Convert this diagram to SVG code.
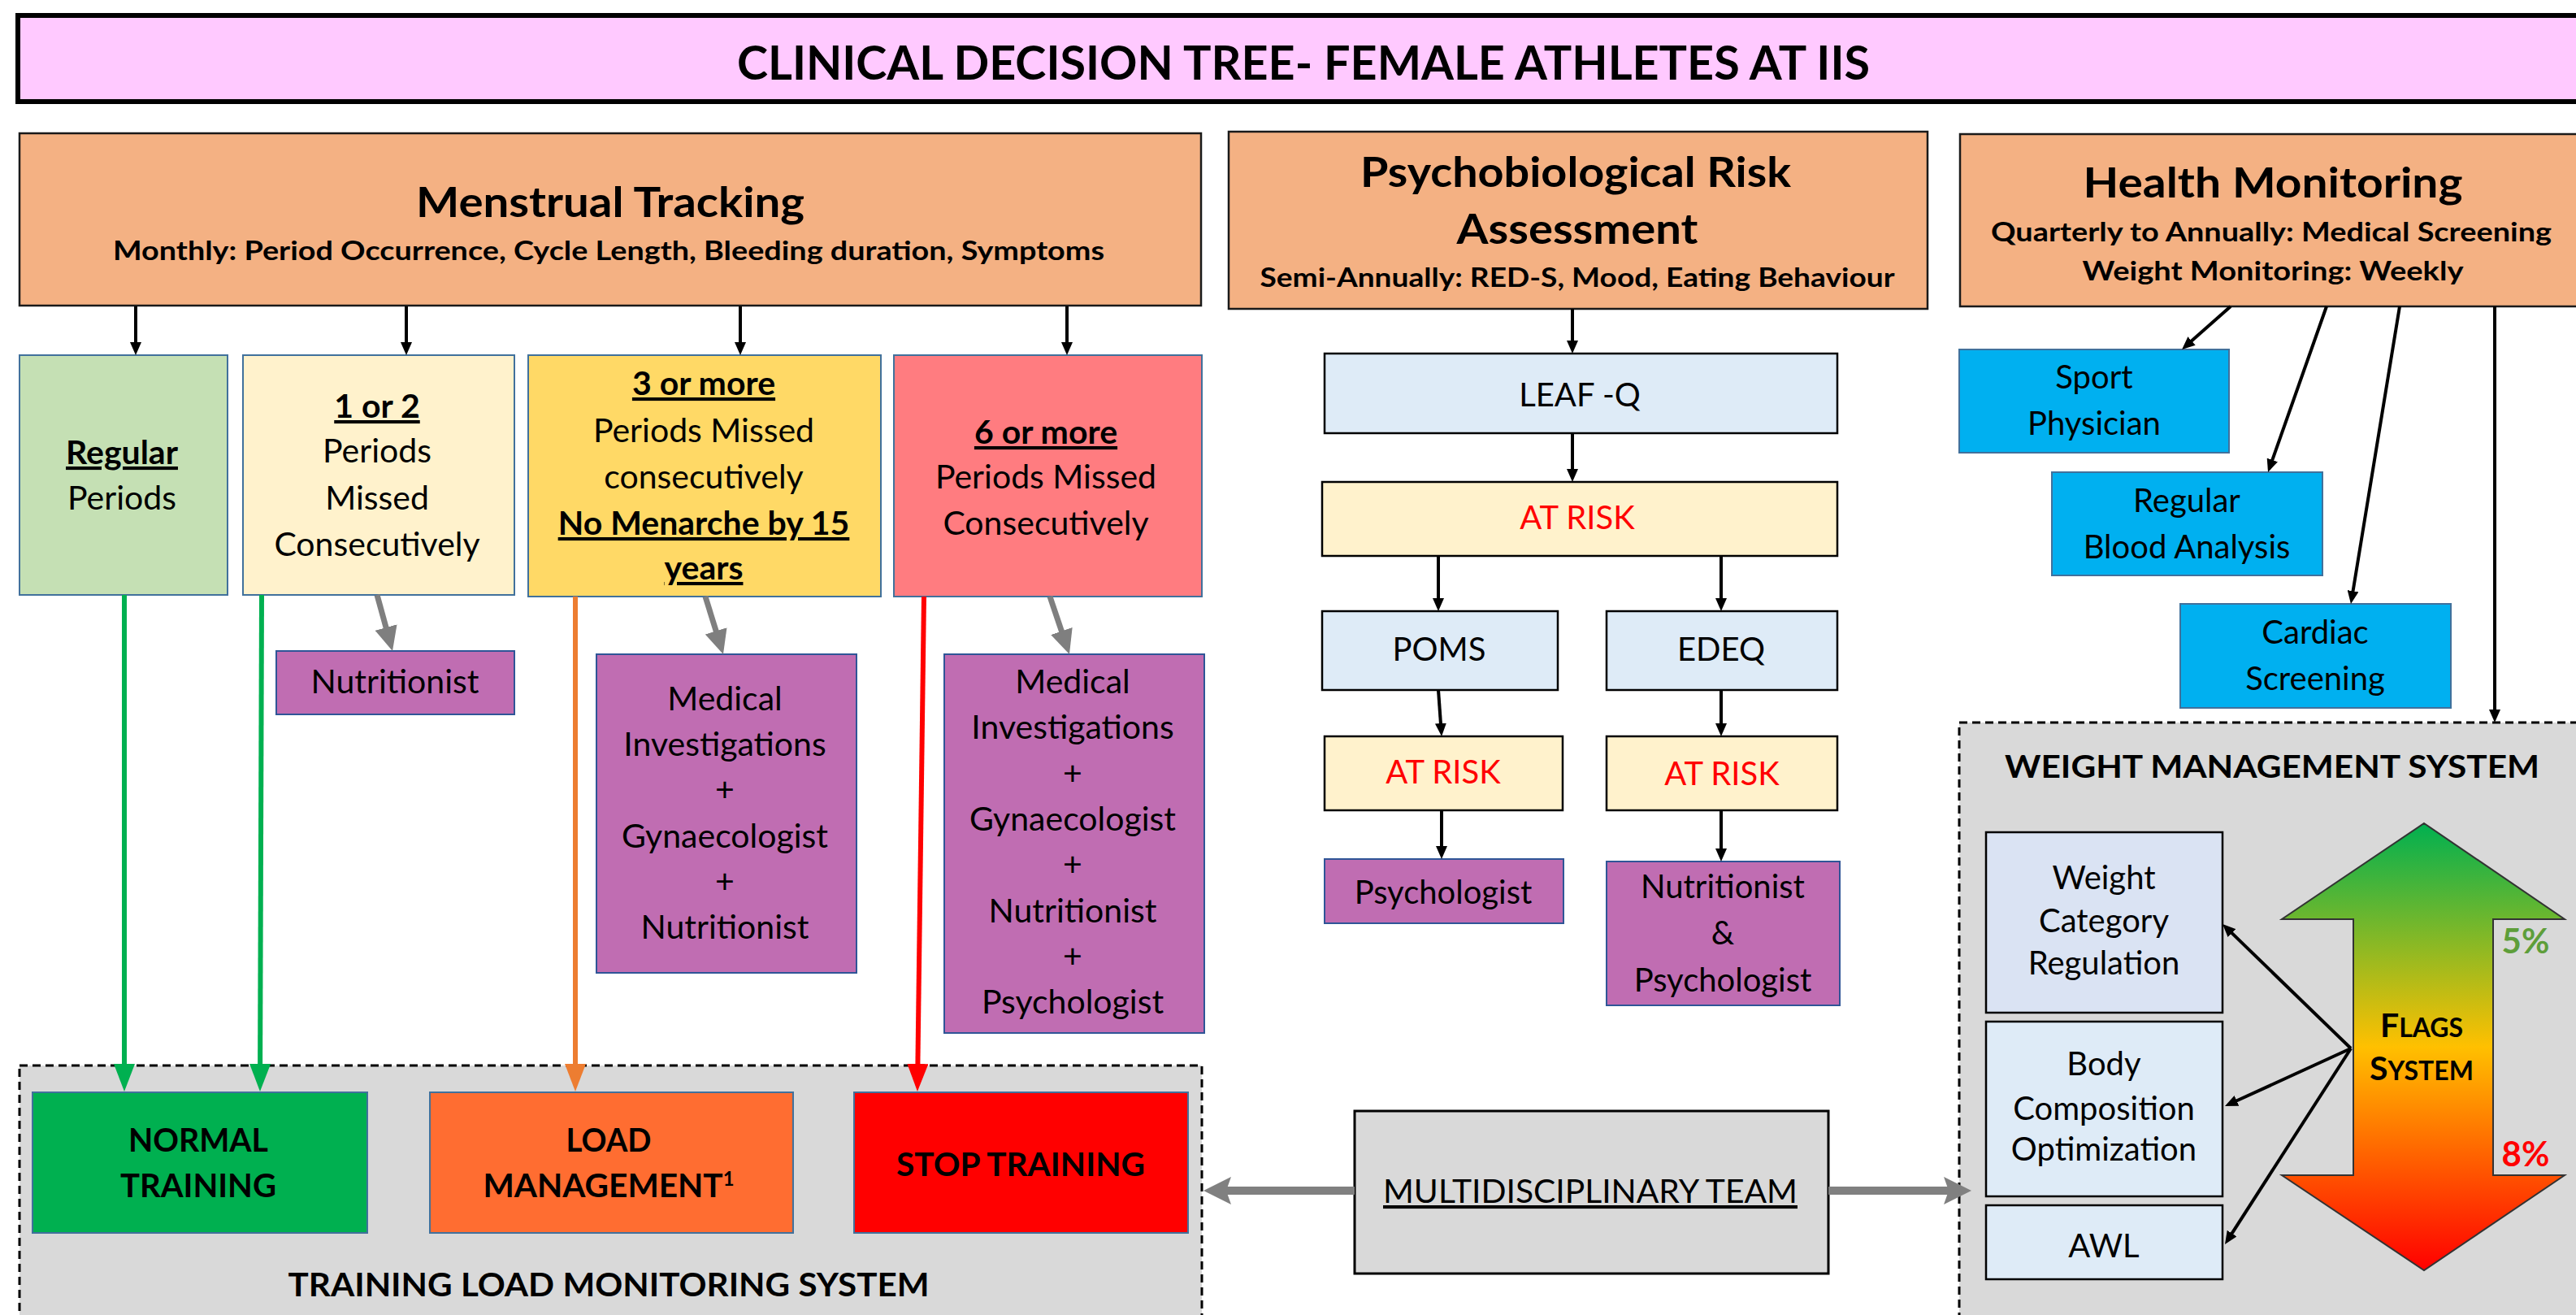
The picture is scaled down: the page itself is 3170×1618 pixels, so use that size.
<svg xmlns="http://www.w3.org/2000/svg" width="3170" height="1618" viewBox="0 0 3170 1618">
<defs>
<style>
text { font-family: Lato, "Open Sans", "Liberation Sans", sans-serif; fill: #000; text-anchor: middle; }
.b { font-weight: 700; }
.u { text-decoration: underline; }
.f40 { font-size: 40px; }
.f41 { font-size: 41px; }
.f51 { font-size: 51px; font-weight: 700; }
.f32 { font-size: 32px; font-weight: 700; }
.hdr { fill: #F4B183; stroke: #1a1a1a; stroke-width: 2.5; }
.bb { stroke: #41719C; stroke-width: 2; }
.kb { stroke: #000; stroke-width: 2.5; }
.purple { fill: #C06DB2; stroke: #2F5597; stroke-width: 2; }
.lblue { fill: #DEEBF7; }
.cream { fill: #FFF2CC; }
.cyan { fill: #00B0F0; stroke: #41719C; stroke-width: 2; }
.dash { fill: #D9D9D9; stroke: #000; stroke-width: 3; stroke-dasharray: 10 6; }
.ck { fill: none; stroke: #000; stroke-width: 4; marker-end: url(#ah-k); }
.cg { fill: none; stroke: #7F7F7F; stroke-width: 7; marker-end: url(#ah-g); }
</style>
<marker id="ah-k" markerUnits="userSpaceOnUse" markerWidth="16" markerHeight="14" refX="1" refY="7" orient="auto"><path d="M0,0 L16,7 L0,14 z" fill="#000"/></marker>
<marker id="ah-g" markerUnits="userSpaceOnUse" markerWidth="30" markerHeight="28" refX="1" refY="14" orient="auto"><path d="M0,0 L30,14 L0,28 z" fill="#7F7F7F"/></marker>
<marker id="ah-green" markerUnits="userSpaceOnUse" markerWidth="34" markerHeight="26" refX="1" refY="13" orient="auto"><path d="M0,0 L34,13 L0,26 z" fill="#00B050"/></marker>
<marker id="ah-orange" markerUnits="userSpaceOnUse" markerWidth="34" markerHeight="26" refX="1" refY="13" orient="auto"><path d="M0,0 L34,13 L0,26 z" fill="#ED7D31"/></marker>
<marker id="ah-red" markerUnits="userSpaceOnUse" markerWidth="34" markerHeight="26" refX="1" refY="13" orient="auto"><path d="M0,0 L34,13 L0,26 z" fill="#FF0000"/></marker>
<marker id="ah-mdt" markerUnits="userSpaceOnUse" markerWidth="34" markerHeight="34" refX="6" refY="17" orient="auto"><path d="M0,0 L34,17 L0,34 L6,17 z" fill="#808080"/></marker>
<linearGradient id="flagGrad" x1="0" y1="1013" x2="0" y2="1563" gradientUnits="userSpaceOnUse">
<stop offset="0" stop-color="#00B050"/>
<stop offset="0.5" stop-color="#FFC000"/>
<stop offset="1" stop-color="#FF0000"/>
</linearGradient>
</defs>

<rect width="3170" height="1618" fill="#FFFFFF"/>

<g id="title">
<rect x="22" y="19" width="3200" height="106" fill="#FFC9FF" stroke="#000" stroke-width="6"/>
<text x="1604" y="98" class="b" font-size="57" textLength="1394" lengthAdjust="spacingAndGlyphs">CLINICAL DECISION TREE- FEMALE ATHLETES AT IIS</text>
</g>

<g id="training-load-monitoring-system">
<rect x="24" y="1311" width="1455" height="400" class="dash"/>
<text x="749" y="1595" class="b" font-size="41" textLength="789" lengthAdjust="spacingAndGlyphs">TRAINING  LOAD  MONITORING  SYSTEM</text>
</g>
<g id="weight-management-system">
<rect x="2411" y="889" width="800" height="800" class="dash"/>
<text x="2796" y="957" class="b" font-size="39" textLength="658" lengthAdjust="spacingAndGlyphs">WEIGHT MANAGEMENT   SYSTEM</text>
</g>

<g id="menstrual-tracking">
<rect x="24" y="164" width="1454" height="212" class="hdr"/>
<text x="751" y="267" class="f51" textLength="478" lengthAdjust="spacingAndGlyphs">Menstrual Tracking</text>
<text x="749" y="320" class="f32" textLength="1220" lengthAdjust="spacingAndGlyphs">Monthly:  Period Occurrence, Cycle Length, Bleeding duration, Symptoms</text>
</g>
<g id="psychobiological-risk">
<rect x="1512" y="162" width="860" height="218" class="hdr"/>
<text x="1939" y="230" class="f51" textLength="530" lengthAdjust="spacingAndGlyphs">Psychobiological Risk</text>
<text x="1941" y="300" class="f51" textLength="297" lengthAdjust="spacingAndGlyphs">Assessment</text>
<text x="1941" y="353" class="f32" textLength="781" lengthAdjust="spacingAndGlyphs">Semi-Annually: RED-S, Mood,  Eating Behaviour</text>
</g>
<g id="health-monitoring">
<rect x="2412" y="165" width="800" height="212" class="hdr"/>
<text x="2797" y="243" class="f51" textLength="467" lengthAdjust="spacingAndGlyphs">Health Monitoring</text>
<text x="2795" y="297" class="f32" textLength="690" lengthAdjust="spacingAndGlyphs">Quarterly to Annually: Medical Screening</text>
<text x="2797" y="345" class="f32" textLength="469" lengthAdjust="spacingAndGlyphs">Weight Monitoring:  Weekly</text>
</g>

<g id="regular-periods">
<rect x="24" y="437" width="256" height="295" fill="#C5E0B4" class="bb"/>
<text x="150" y="571" class="f41 b u">Regular</text>
<text x="150" y="627" class="f41">Periods</text>
</g>
<g id="one-or-two-missed">
<rect x="299" y="437" width="334" height="295" fill="#FFF2CC" class="bb"/>
<text x="464" y="514" class="f41 b u">1 or 2</text>
<text x="464" y="569" class="f41">Periods</text>
<text x="464" y="627" class="f41">Missed</text>
<text x="464" y="684" class="f41">Consecutively</text>
</g>
<g id="three-or-more-missed">
<rect x="650" y="437" width="434" height="297" fill="#FFD966" class="bb"/>
<text x="866" y="486" class="f41 b u">3 or more</text>
<text x="866" y="544" class="f41">Periods Missed</text>
<text x="866" y="601" class="f41">consecutively</text>
<text x="866" y="658" class="f41 b u">No Menarche by 15</text>
<text x="866" y="713" class="f41 b u">years</text>
</g>
<g id="six-or-more-missed">
<rect x="1100" y="437" width="379" height="297" fill="#FF7C80" class="bb"/>
<text x="1287" y="546" class="f41 b u">6 or more</text>
<text x="1287" y="601" class="f41">Periods Missed</text>
<text x="1287" y="658" class="f41">Consecutively</text>
</g>
<g id="nutritionist-1">
<rect x="340" y="801" width="293" height="78" class="purple"/>
<text x="486" y="853" class="f41">Nutritionist</text>
</g>
<g id="medical-3">
<rect x="734" y="805" width="320" height="392" class="purple"/>
<text x="892" y="874" class="f41">Medical</text>
<text x="892" y="930" class="f41">Investigations</text>
<text x="892" y="986" class="f41">+</text>
<text x="892" y="1043" class="f41">Gynaecologist</text>
<text x="892" y="1099" class="f41">+</text>
<text x="892" y="1155" class="f41">Nutritionist</text>
</g>
<g id="medical-6">
<rect x="1162" y="805" width="320" height="466" class="purple"/>
<text x="1320" y="853" class="f41">Medical</text>
<text x="1320" y="909" class="f41">Investigations</text>
<text x="1320" y="966" class="f41">+</text>
<text x="1320" y="1022" class="f41">Gynaecologist</text>
<text x="1320" y="1078" class="f41">+</text>
<text x="1320" y="1135" class="f41">Nutritionist</text>
<text x="1320" y="1191" class="f41">+</text>
<text x="1320" y="1247" class="f41">Psychologist</text>
</g>

<g id="leaf-q">
<rect x="1630" y="435" width="631" height="98" class="lblue kb"/>
<text x="1944" y="500" class="f40">LEAF -Q</text>
</g>
<g id="at-risk-1">
<rect x="1627" y="593" width="634" height="91" class="cream kb"/>
<text x="1941" y="651" class="f40" style="fill:#FF0000">AT RISK</text>
</g>
<g id="poms">
<rect x="1627" y="752" width="290" height="97" class="lblue kb"/>
<text x="1771" y="813" class="f40">POMS</text>
</g>
<g id="edeq">
<rect x="1977" y="752" width="284" height="97" class="lblue kb"/>
<text x="2118" y="813" class="f40">EDEQ</text>
</g>
<g id="at-risk-2">
<rect x="1630" y="906" width="293" height="91" class="cream kb"/>
<text x="1776" y="964" class="f40" style="fill:#FF0000">AT RISK</text>
</g>
<g id="at-risk-3">
<rect x="1977" y="906" width="284" height="91" class="cream kb"/>
<text x="2119" y="966" class="f40" style="fill:#FF0000">AT RISK</text>
</g>
<g id="psychologist">
<rect x="1630" y="1057" width="294" height="79" class="purple"/>
<text x="1776" y="1112" class="f40">Psychologist</text>
</g>
<g id="nutritionist-psychologist">
<rect x="1977" y="1060" width="287" height="177" class="purple"/>
<text x="2120" y="1105" class="f40">Nutritionist</text>
<text x="2120" y="1162" class="f40">&amp;</text>
<text x="2120" y="1220" class="f40">Psychologist</text>
</g>

<g id="sport-physician">
<rect x="2411" y="430" width="332" height="127" class="cyan"/>
<text x="2577" y="478" class="f40">Sport</text>
<text x="2577" y="535" class="f40">Physician</text>
</g>
<g id="blood-analysis">
<rect x="2525" y="581" width="333" height="127" class="cyan"/>
<text x="2691" y="630" class="f40">Regular</text>
<text x="2691" y="687" class="f40">Blood Analysis</text>
</g>
<g id="cardiac-screening">
<rect x="2683" y="743" width="333" height="128" class="cyan"/>
<text x="2849" y="792" class="f40">Cardiac</text>
<text x="2849" y="849" class="f40">Screening</text>
</g>

<g id="weight-category-regulation">
<rect x="2444" y="1024" width="291" height="222" fill="#DAE3F3" class="kb"/>
<text x="2589" y="1094" class="f40">Weight</text>
<text x="2589" y="1147" class="f40">Category</text>
<text x="2589" y="1199" class="f40">Regulation</text>
</g>
<g id="body-composition">
<rect x="2444" y="1257" width="291" height="215" class="lblue kb"/>
<text x="2589" y="1323" class="f40">Body</text>
<text x="2589" y="1378" class="f40">Composition</text>
<text x="2589" y="1428" class="f40">Optimization</text>
</g>
<g id="awl">
<rect x="2444" y="1483" width="291" height="91" class="lblue kb"/>
<text x="2589" y="1547" class="f40">AWL</text>
</g>
<g id="flags-system">
<polygon points="2983,1013 3156,1131 3068,1131 3068,1446 3156,1446 2983,1563 2808,1446 2896,1446 2896,1131 2808,1131" fill="url(#flagGrad)" stroke="#333" stroke-width="2"/>
<text x="2980" y="1276" class="b" font-size="41">F<tspan font-size="32">LAGS</tspan></text>
<text x="2980" y="1329" class="b" font-size="41">S<tspan font-size="32">YSTEM</tspan></text>
<text x="3108" y="1173" class="b" font-size="42" style="fill:#5E9E3A">5%</text>
<text x="3108" y="1435" class="b" font-size="42" style="fill:#FF0000">8%</text>
</g>

<g id="normal-training">
<rect x="40" y="1344" width="412" height="173" fill="#00B050" class="bb"/>
<text x="244" y="1417" class="b" font-size="41" textLength="172" lengthAdjust="spacingAndGlyphs">NORMAL</text>
<text x="244" y="1473" class="b" font-size="41" textLength="192" lengthAdjust="spacingAndGlyphs">TRAINING</text>
</g>
<g id="load-management">
<rect x="529" y="1344" width="447" height="173" fill="#FF6D31" class="bb"/>
<text x="749" y="1417" class="b" font-size="41" textLength="105" lengthAdjust="spacingAndGlyphs">LOAD</text>
<text x="749" y="1473" class="b" font-size="41" textLength="309" lengthAdjust="spacingAndGlyphs">MANAGEMENT<tspan font-size="24" baseline-shift="super">1</tspan></text>
</g>
<g id="stop-training">
<rect x="1051" y="1344" width="411" height="173" fill="#FF0000" class="bb"/>
<text x="1256" y="1447" class="b" font-size="41" textLength="306" lengthAdjust="spacingAndGlyphs">STOP TRAINING</text>
</g>
<g id="multidisciplinary-team">
<rect x="1667" y="1367" width="583" height="200" fill="#D9D9D9" stroke="#000" stroke-width="3"/>
<text x="1957" y="1480" class="f41 u" textLength="510" lengthAdjust="spacingAndGlyphs">MULTIDISCIPLINARY TEAM</text>
</g>

<g id="connectors">
<line x1="167" y1="377" x2="167" y2="422" class="ck"/>
<line x1="500" y1="377" x2="500" y2="422" class="ck"/>
<line x1="911" y1="377" x2="911" y2="422" class="ck"/>
<line x1="1313" y1="377" x2="1313" y2="422" class="ck"/>
<line x1="464" y1="732" x2="475.3" y2="773" class="cg"/>
<line x1="868" y1="734" x2="881.4" y2="777.3" class="cg"/>
<line x1="1292" y1="734" x2="1306.7" y2="777.5" class="cg"/>
<line x1="153" y1="732" x2="153" y2="1310" stroke="#00B050" stroke-width="6" marker-end="url(#ah-green)"/>
<line x1="322" y1="732" x2="320.1" y2="1310" stroke="#00B050" stroke-width="6" marker-end="url(#ah-green)"/>
<line x1="708" y1="734" x2="708" y2="1310" stroke="#ED7D31" stroke-width="6" marker-end="url(#ah-orange)"/>
<line x1="1137" y1="734" x2="1129.4" y2="1310" stroke="#FF0000" stroke-width="6" marker-end="url(#ah-red)"/>
<line x1="1935" y1="380" x2="1935" y2="420" class="ck" stroke-width="5"/>
<line x1="1935" y1="533" x2="1935" y2="578" class="ck" stroke-width="5"/>
<line x1="1770" y1="684" x2="1770" y2="737" class="ck" stroke-width="5"/>
<line x1="2118" y1="684" x2="2118" y2="737" class="ck" stroke-width="5"/>
<line x1="1770" y1="849" x2="1773" y2="891" class="ck" stroke-width="5"/>
<line x1="2118" y1="849" x2="2118" y2="891" class="ck" stroke-width="5"/>
<line x1="1774" y1="997" x2="1774" y2="1042" class="ck" stroke-width="5"/>
<line x1="2118" y1="997" x2="2118" y2="1045" class="ck" stroke-width="5"/>
<line x1="2745" y1="377" x2="2696.3" y2="420.1" class="ck"/>
<line x1="2863" y1="377" x2="2796" y2="566.9" class="ck"/>
<line x1="2953" y1="377" x2="2895.4" y2="728.2" class="ck"/>
<line x1="3070" y1="377" x2="3070" y2="874" class="ck"/>
<line x1="2893" y1="1290" x2="2745.8" y2="1147.4" class="ck"/>
<line x1="2893" y1="1290" x2="2751.6" y2="1354.8" class="ck"/>
<line x1="2893" y1="1290" x2="2746.1" y2="1518.4" class="ck"/>
<line x1="1667" y1="1465" x2="1509" y2="1465" stroke="#808080" stroke-width="10" marker-end="url(#ah-mdt)"/>
<line x1="2250" y1="1465" x2="2398" y2="1465" stroke="#808080" stroke-width="10" marker-end="url(#ah-mdt)"/>
</g>
</svg>
